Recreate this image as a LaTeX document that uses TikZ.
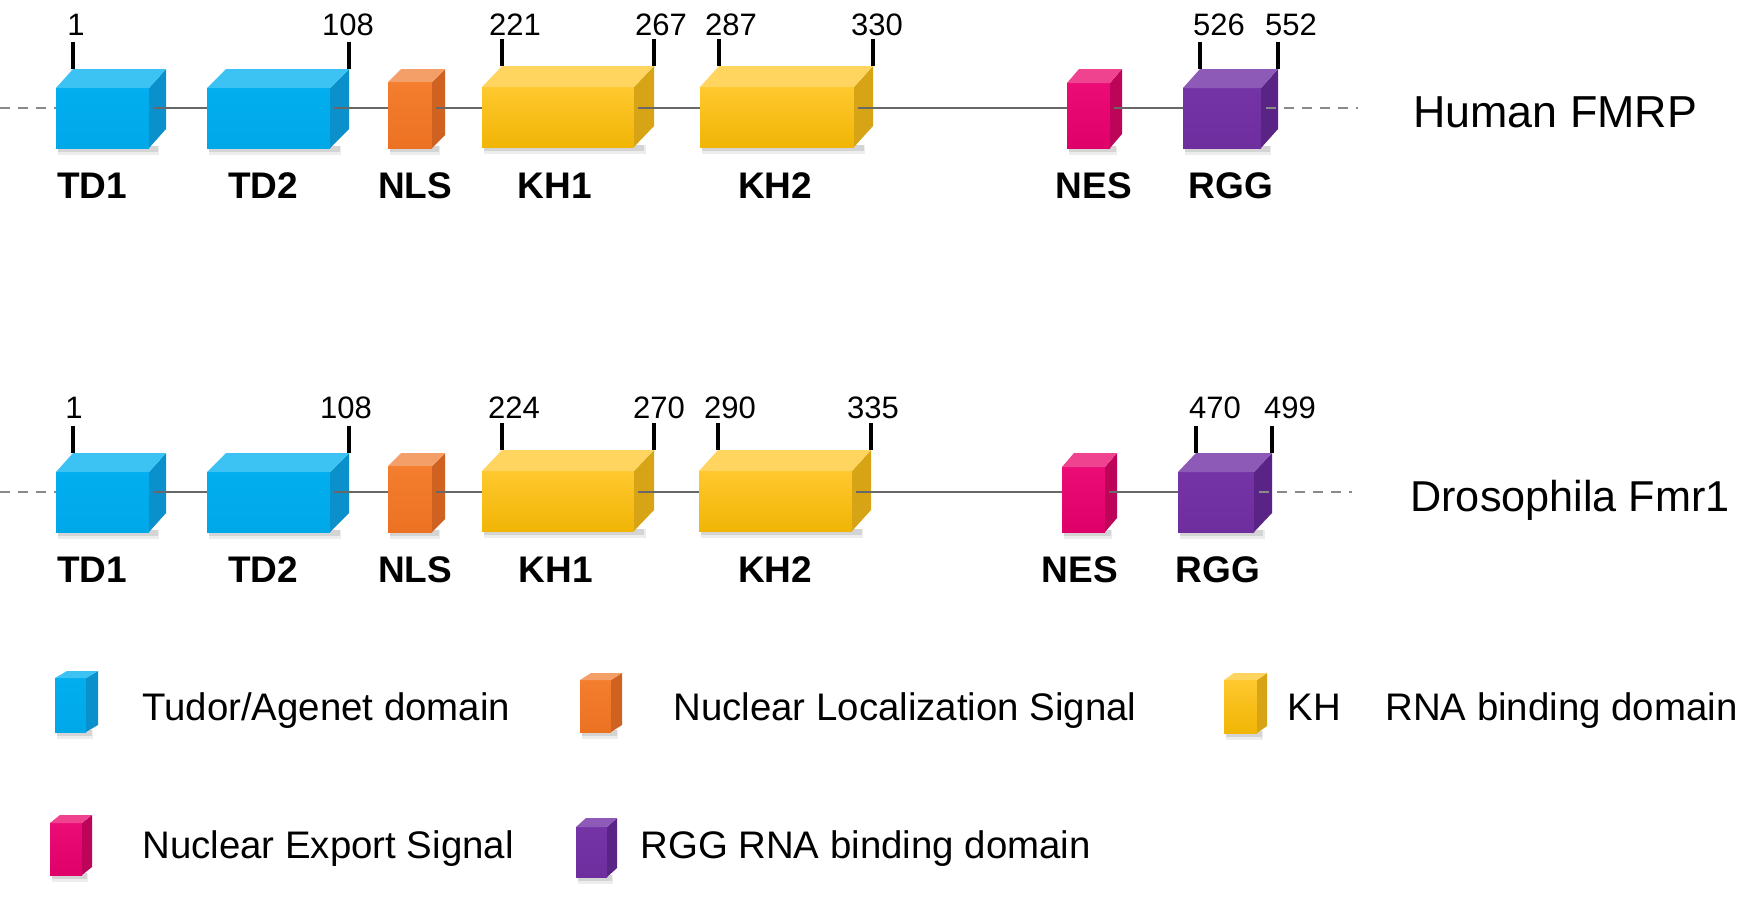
\documentclass[tikz,border=0pt]{standalone}
\usepackage{fontspec}
\setmainfont{Liberation Sans}
\usetikzlibrary{calc}
\definecolor{tdF}{HTML}{02AEEF}\definecolor{tdFB}{HTML}{00A8E8}\definecolor{tdT}{HTML}{3CC3F4}\definecolor{tdS}{HTML}{0A90CA}
\definecolor{nlF}{HTML}{F37E2E}\definecolor{nlFB}{HTML}{EC7222}\definecolor{nlT}{HTML}{F59F68}\definecolor{nlS}{HTML}{CF6220}
\definecolor{khF}{HTML}{FFC82E}\definecolor{khFB}{HTML}{F0B505}\definecolor{khT}{HTML}{FFD560}\definecolor{khS}{HTML}{D6A414}
\definecolor{neF}{HTML}{EC0C76}\definecolor{neFB}{HTML}{E0006A}\definecolor{neT}{HTML}{F0438F}\definecolor{neS}{HTML}{BC0459}
\definecolor{rgF}{HTML}{7434A6}\definecolor{rgFB}{HTML}{6E2E9E}\definecolor{rgT}{HTML}{8E5AB8}\definecolor{rgS}{HTML}{5A2486}
\definecolor{lineGray}{HTML}{686868}
\definecolor{dashGray}{HTML}{8A8A8A}
\tikzset{
  face/.style={inner sep=0pt, outer sep=0pt, draw=none},
  numlbl/.style={anchor=base, inner sep=0pt, font=\fontsize{15.5}{18}\selectfont},
  domlbl/.style={anchor=base, inner sep=0pt, font=\bfseries\fontsize{18.5}{22}\selectfont},
  leglbl/.style={anchor=base west, inner sep=0pt, font=\fontsize{19.2}{23}\selectfont},
  species/.style={anchor=base west, inner sep=0pt, font=\fontsize{22.4}{26}\selectfont},
  backbone/.style={draw=lineGray, line width=1.4pt},
  tail/.style={draw=dashGray, line width=1.4pt, dash pattern=on 5pt off 4pt},
  tickline/.style={draw=black, line width=1.6pt},
}
% #1 name, #2 x, #3 top, #4 w, #5 h, #6 dx, #7 dy, #8 colour prefix
\newcommand\dombox[8]{%
  \fill[black, opacity=0.07] (#2+2,#3+#5-2) rectangle (#2+#4+#6*0.6,#3+#5+7);
  \fill[black, opacity=0.10] (#2+2,#3+#5-2) rectangle (#2+#4+#6*0.5,#3+#5+4);
  \node[face, anchor=north west, minimum width=#4*0.5pt, minimum height=#5*0.5pt,
        top color=#8F, bottom color=#8FB] (#1) at (#2,#3) {};
  \fill[#8S] (#1.north east) -- ++(#6,-#7) -- ++(0,#5) -- (#1.south east) -- cycle;
  \fill[#8T] (#1.north west) -- ++(#6,-#7) -- ([shift={(#6,-#7)}]#1.north east) -- (#1.north east) -- cycle;
  \coordinate (#1-bl) at ([shift={(#6,-#7)}]#1.north west);
  \coordinate (#1-br) at ([shift={(#6,-#7)}]#1.north east);
}
\begin{document}
\begin{tikzpicture}[x=0.5pt,y=-0.5pt]
\useasboundingbox (0,0) rectangle (1740,896);
\fill[white] (0,0) rectangle (1740,896);

% ---------------- Human FMRP ----------------
\coordinate (hL) at (0,108);
\coordinate (hR) at (1358,108);
\dombox{htd1}{56}{88}{93}{60}{17}{19}{td}
\dombox{htd2}{207}{88}{123}{60}{19}{19}{td}
\dombox{hnls}{388}{82}{44}{66}{13}{13}{nl}
\dombox{hkh1}{482}{87}{152}{60}{20}{21}{kh}
\dombox{hkh2}{700}{87}{154}{60}{19}{21}{kh}
\dombox{hnes}{1067}{83}{43}{65}{12}{14}{ne}
\dombox{hrgg}{1183}{88}{78}{60}{17}{19}{rg}

\draw[tail] (hL) -- (htd1.west |- hL);
\foreach \a/\b in {htd1/htd2, htd2/hnls, hnls/hkh1, hkh1/hkh2, hkh2/hnes, hnes/hrgg}
  \draw[backbone] ($(\a.east |- hL)+(4,0)$) -- (\b.west |- hL);
\draw[tail] ($(hrgg.east |- hL)+(5,0)$) -- (hR);

\draw[tickline] (htd1-bl) -- ++(0,-27);
\draw[tickline] (htd2-br) -- ++(0,-27);
\draw[tickline] (hkh1-bl) -- ++(0,-27);
\draw[tickline] (hkh1-br) -- ++(0,-27);
\draw[tickline] (hkh2-bl) -- ++(0,-27);
\draw[tickline] (hkh2-br) -- ++(0,-27);
\draw[tickline] (hrgg-bl) -- ++(0,-27);
\draw[tickline] (hrgg-br) -- ++(0,-27);

\node[numlbl] (hn1) at (76,35) {1};
\node[numlbl] (hn108) at (348,35) {108};
\node[numlbl] (hn221) at (515,35) {221};
\node[numlbl] (hn267) at (661,35) {267};
\node[numlbl] (hn287) at (731,35) {287};
\node[numlbl] (hn330) at (877,35) {330};
\node[numlbl] (hn526) at (1219,35) {526};
\node[numlbl] (hn552) at (1291,35) {552};

\node[domlbl] (hl1) at (92,198) {TD1};
\node[domlbl] (hl2) at (263,198) {TD2};
\node[domlbl] (hl3) at (415,198) {NLS};
\node[domlbl] (hl4) at (555,198) {KH1};
\node[domlbl] (hl5) at (775,198) {KH2};
\node[domlbl] (hl6) at (1094,198) {NES};
\node[domlbl] (hl7) at (1231,198) {RGG};

\node[species] (hname) at (1413,127) {Human FMRP};

% ---------------- Drosophila Fmr1 ----------------
\coordinate (dL) at (0,492);
\coordinate (dR) at (1352,492);
\dombox{dtd1}{56}{472}{93}{60}{17}{19}{td}
\dombox{dtd2}{207}{472}{123}{60}{19}{19}{td}
\dombox{dnls}{388}{466}{44}{66}{13}{13}{nl}
\dombox{dkh1}{482}{471}{152}{60}{20}{21}{kh}
\dombox{dkh2}{699}{471}{153}{60}{19}{21}{kh}
\dombox{dnes}{1062}{467}{43}{65}{12}{14}{ne}
\dombox{drgg}{1178}{472}{76}{60}{18}{19}{rg}

\draw[tail] (dL) -- (dtd1.west |- dL);
\foreach \a/\b in {dtd1/dtd2, dtd2/dnls, dnls/dkh1, dkh1/dkh2, dkh2/dnes, dnes/drgg}
  \draw[backbone] ($(\a.east |- dL)+(4,0)$) -- (\b.west |- dL);
\draw[tail] ($(drgg.east |- dL)+(5,0)$) -- (dR);

\draw[tickline] (dtd1-bl) -- ++(0,-27);
\draw[tickline] (dtd2-br) -- ++(0,-27);
\draw[tickline] (dkh1-bl) -- ++(0,-27);
\draw[tickline] (dkh1-br) -- ++(0,-27);
\draw[tickline] (dkh2-bl) -- ++(0,-27);
\draw[tickline] (dkh2-br) -- ++(0,-27);
\draw[tickline] (drgg-bl) -- ++(0,-27);
\draw[tickline] (drgg-br) -- ++(0,-27);

\node[numlbl] (dn1) at (74,418) {1};
\node[numlbl] (dn108) at (346,418) {108};
\node[numlbl] (dn224) at (514,418) {224};
\node[numlbl] (dn270) at (659,418) {270};
\node[numlbl] (dn290) at (730,418) {290};
\node[numlbl] (dn335) at (873,418) {335};
\node[numlbl] (dn470) at (1215,418) {470};
\node[numlbl] (dn499) at (1290,418) {499};

\node[domlbl] (dl1) at (92,582) {TD1};
\node[domlbl] (dl2) at (263,582) {TD2};
\node[domlbl] (dl3) at (415,582) {NLS};
\node[domlbl] (dl4) at (556,582) {KH1};
\node[domlbl] (dl5) at (775,582) {KH2};
\node[domlbl] (dl6) at (1080,582) {NES};
\node[domlbl] (dl7) at (1218,582) {RGG};

\node[species, font=\fontsize{21.6}{26}\selectfont] (dname) at (1410,511) {Drosophila Fmr1};

% ---------------- Legend ----------------
\dombox{lgtd}{55}{678}{31}{54}{12}{7}{td}
\dombox{lgnls}{580}{680}{31}{52}{11}{7}{nl}
\dombox{lgkh}{1224}{680}{33}{53}{10}{7}{kh}
\dombox{lgnes}{50}{823}{32}{52}{10}{8}{ne}
\dombox{lgrgg}{576}{827}{31}{50}{10}{9}{rg}

\node[leglbl] (t1) at (142,720) {Tudor/Agenet domain};
\node[leglbl] (t2) at (673,720) {Nuclear Localization Signal};
\node[leglbl] (t3) at (1287,720) {KH};
\node[leglbl] (t3b) at (1385,720) {RNA binding domain};
\node[leglbl] (t4) at (142,858) {Nuclear Export Signal};
\node[leglbl] (t5) at (640,858) {RGG RNA binding domain};
\end{tikzpicture}
\end{document}
